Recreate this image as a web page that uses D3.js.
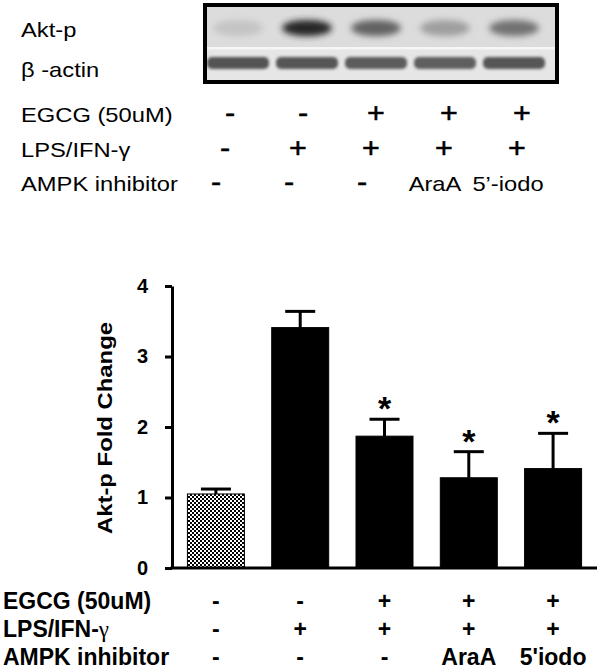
<!DOCTYPE html>
<html>
<head>
<meta charset="utf-8">
<script src="https://cdn.jsdelivr.net/npm/d3@7"></script>
<style>
  body { margin: 0; background: #fff; }
  svg { display: block; font-family: "Liberation Sans", Arial, sans-serif; }
</style>
</head>
<body>
<script>
// bar chart data
var groups = ["ctrl", "lps", "egcg", "araa", "iodo"];
var foldChange = [1.05, 3.41, 1.87, 1.28, 1.41];
var foldErr = [0.07, 0.23, 0.24, 0.37, 0.50];
var signif = [false, false, true, true, true];
var yTicks = [0, 1, 2, 3, 4];

// treatment rows
var rowNames = ["EGCG (50uM)", "LPS/IFN-", "AMPK inhibitor"];
var egcgRow = ["-", "-", "+", "+", "+"];
var lpsRow = ["-", "+", "+", "+", "+"];
var ampkRow = ["-", "-", "-", "AraA", "5'iodo"];
var ampkRowTop = ["-", "-", "-", "AraA", "5\u2019-iodo"];

// blot band darkness (0 = none, 1 = black)
var aktBand = [0.12, 0.9, 0.6, 0.3, 0.52];
var actinBand = [0.72, 0.7, 0.68, 0.66, 0.7];

var W = 600, H = 672;
var svg = d3.select("body").append("svg")
    .attr("width", W)
    .attr("height", H);

var defs = svg.append("defs");
var pat = defs.append("pattern")
    .attr("id", "check")
    .attr("width", 4).attr("height", 4)
    .attr("patternUnits", "userSpaceOnUse");
pat.append("rect").attr("width", 4).attr("height", 4).attr("fill", "#fff");
pat.append("rect").attr("width", 2).attr("height", 2).attr("fill", "#000");
pat.append("rect").attr("x", 2).attr("y", 2).attr("width", 2).attr("height", 2).attr("fill", "#000");

defs.append("filter").attr("id", "blur")
    .attr("x", "-30%").attr("y", "-60%").attr("width", "160%").attr("height", "220%")
    .append("feGaussianBlur").attr("stdDeviation", 3);
defs.append("filter").attr("id", "blur2")
    .attr("x", "-30%").attr("y", "-60%").attr("width", "160%").attr("height", "220%")
    .append("feGaussianBlur").attr("stdDeviation", 1.6);

// ---------- western blot panel ----------
var lane = d3.scalePoint().domain(groups).range([238, 514]);
var blot = svg.append("g");
blot.append("rect")
    .attr("x", 205).attr("y", 5).attr("width", 352).attr("height", 77)
    .attr("fill", "#dcdcdc");
blot.append("rect")
    .attr("x", 205).attr("y", 49).attr("width", 352).attr("height", 33)
    .attr("fill", "#e6e6e6");
blot.append("rect")
    .attr("x", 205).attr("y", 47).attr("width", 352).attr("height", 2.5)
    .attr("fill", "#f6f6f6");

var grey = d3.interpolateRgb("#dcdcdc", "#111");
blot.selectAll(".akt")
    .data(groups)
    .join("ellipse")
    .attr("cx", d => lane(d))
    .attr("cy", 28)
    .attr("rx", 25)
    .attr("ry", 8)
    .attr("fill", (d, i) => grey(aktBand[i]))
    .attr("filter", "url(#blur)");

blot.selectAll(".actin")
    .data(groups)
    .join("rect")
    .attr("x", d => lane(d) - 31)
    .attr("y", 57)
    .attr("width", 62)
    .attr("height", 12)
    .attr("rx", 5)
    .attr("fill", (d, i) => d3.interpolateRgb("#e6e6e6", "#1a1a1a")(actinBand[i]))
    .attr("filter", "url(#blur2)");

blot.append("rect")
    .attr("x", 205).attr("y", 5).attr("width", 352).attr("height", 77)
    .attr("fill", "none")
    .attr("stroke", "#000")
    .attr("stroke-width", 4);

// top labels (image text is a bit wide, so stretch it)
function wideText(g, x, y, txt, anchor) {
    return g.append("text")
        .attr("transform", "translate(" + x + "," + y + ") scale(1.13,1)")
        .attr("text-anchor", anchor || "start")
        .attr("font-size", 21)
        .attr("fill", "#000")
        .text(txt);
}
var topG = svg.append("g");
wideText(topG, 21, 37, "Akt-p");
wideText(topG, 21, 77, "\u03b2 -actin");
var topBase = [122, 157, 191];
var topShift = [0, -5, -14];
var topRows = [egcgRow, lpsRow, ampkRowTop];
var topCol = d3.scalePoint().domain(groups).range([230, 522]);
topRows.forEach(function(row, r) {
    wideText(topG, 21, topBase[r], r === 1 ? rowNames[r] + "\u03b3" : rowNames[r]);
    row.forEach(function(s, i) {
        var t = wideText(topG, topCol(groups[i]) + topShift[r], topBase[r], s, "middle");
        if (s.length === 1) t.attr("font-size", 27).attr("stroke", "#000").attr("stroke-width", 0.5);
    });
});

// ---------- bar chart ----------
var x = d3.scaleBand().domain(groups).range([172, 597]).paddingInner(0.324).paddingOuter(0.183);
var y = d3.scaleLinear().domain([0, 4]).range([568, 286]);

var chart = svg.append("g");

chart.selectAll(".bar")
    .data(groups)
    .join("rect")
    .attr("x", d => x(d))
    .attr("y", (d, i) => y(foldChange[i]))
    .attr("width", x.bandwidth())
    .attr("height", (d, i) => y(0) - y(foldChange[i]))
    .attr("fill", (d, i) => i === 0 ? "url(#check)" : "#000")
    .attr("stroke", "#000")
    .attr("stroke-width", 1);

// error bars (upper only)
var errG = chart.append("g").attr("stroke", "#000").attr("stroke-width", 3);
groups.forEach(function(g, i) {
    var cx = x(g) + x.bandwidth() / 2;
    errG.append("line")
        .attr("x1", cx).attr("x2", cx)
        .attr("y1", y(foldChange[i])).attr("y2", y(foldChange[i] + foldErr[i]));
    errG.append("line")
        .attr("x1", cx - 15).attr("x2", cx + 15)
        .attr("y1", y(foldChange[i] + foldErr[i])).attr("y2", y(foldChange[i] + foldErr[i]));
    if (signif[i]) {
        chart.append("text")
            .attr("x", cx)
            .attr("y", y(foldChange[i] + foldErr[i]) + 1)
            .attr("text-anchor", "middle")
            .attr("font-size", 34)
            .attr("font-weight", "bold")
            .text("*");
    }
});

// axes
var yAxis = chart.append("g")
    .attr("transform", "translate(172,0)")
    .call(d3.axisLeft(y).tickValues(yTicks).tickFormat(d3.format("d")).tickSize(7).tickPadding(17).tickSizeOuter(0));
yAxis.select(".domain").attr("stroke-width", 3);
yAxis.selectAll(".tick line").attr("stroke-width", 3);
yAxis.selectAll(".tick text")
    .attr("font-size", 20)
    .attr("font-weight", "bold")
    .attr("font-family", "Liberation Sans, Arial, sans-serif")
    .attr("fill", "#000");

var xAxis = chart.append("g")
    .attr("transform", "translate(0," + y(0) + ")")
    .call(d3.axisBottom(x).tickSize(0).tickFormat(""));
xAxis.select(".domain").attr("stroke-width", 3).attr("d", "M170.5,0H597");

chart.append("text")
    .attr("transform", "translate(112,428) rotate(-90)")
    .attr("text-anchor", "middle")
    .attr("font-size", 21)
    .attr("font-weight", "bold")
    .attr("textLength", 212)
    .attr("lengthAdjust", "spacingAndGlyphs")
    .text("Akt-p Fold  Change");

// bottom treatment table
var botBase = [609, 637, 665];
var botRows = [egcgRow, lpsRow, ampkRow];
var bottom = svg.append("g")
    .attr("font-size", 23)
    .attr("font-weight", "bold")
    .attr("fill", "#000");
botRows.forEach(function(row, r) {
    var t = bottom.append("text").attr("x", 3).attr("y", botBase[r]).text(rowNames[r]);
    if (r === 1) {
        t.append("tspan")
            .attr("font-family", "Liberation Serif, serif")
            .attr("font-weight", "normal")
            .text("\u03b3");
    }
    bottom.selectAll(null)
        .data(row)
        .join("text")
        .attr("x", (d, i) => x(groups[i]) + x.bandwidth() / 2)
        .attr("y", botBase[r])
        .attr("text-anchor", "middle")
        .text(d => d);
});
</script>
</body>
</html>
